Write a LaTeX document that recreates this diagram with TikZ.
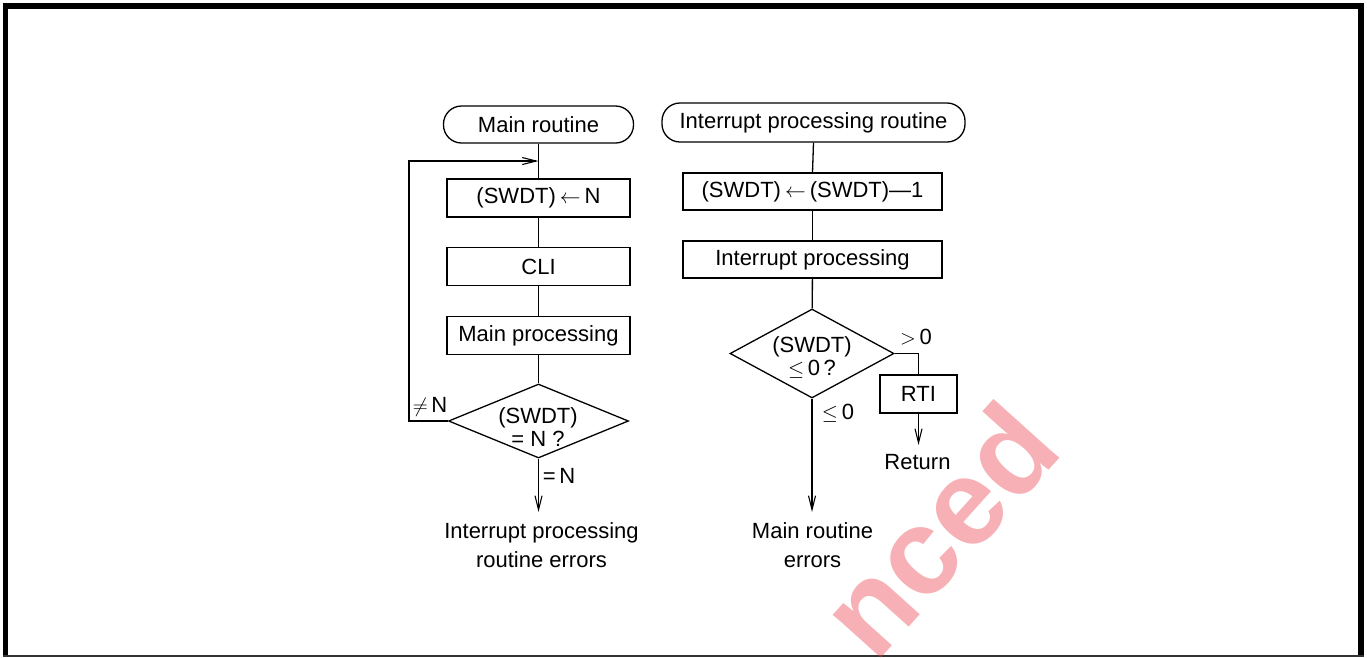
\documentclass[tikz,border=0pt]{standalone}
\usepackage{fontspec}
\setmainfont{Liberation Sans}
\usetikzlibrary{shapes.geometric,arrows.meta}
\newcommand\dfont{\fontsize{22}{23}\selectfont}
\newcommand\lfont{\fontsize{22}{29.5}\selectfont}
\definecolor{wmred}{RGB}{236,70,80}
\begin{document}
\begin{tikzpicture}[x=1pt,y=-1pt,line width=1.3pt,
  every node/.style={inner sep=0pt,font=\dfont},
  term/.style={draw,rectangle,rounded corners=18pt},
  proc/.style={draw,rectangle},
  dec/.style={draw,diamond},
  flow/.style={-{Straight Barb[length=14pt,width=7pt,line width=1.1pt]}}]
\useasboundingbox (0,0) rectangle (1367,657);
% frame
\fill[black] (3,3) rectangle (1364,9);
\fill[black] (3,3) rectangle (8,657);
\fill[black] (1358,3) rectangle (1364,657);
\draw[line width=1.5pt,black!80] (3,656) -- (1364,656);
% watermark
\node[rotate=48,anchor=base east,text=wmred,opacity=0.42,font=\fontsize{122}{122}\selectfont\bfseries] (wm) at (1066,452) {nced};
% left column
\node[term,minimum width=190pt,minimum height=37pt] (t1) at (538.5,124.5) {Main routine};
\node[proc,minimum width=183pt,minimum height=38pt] (b1) at (538.5,198) {(SWDT)\kern4pt$\leftarrow$\kern4pt N};
\node[proc,minimum width=183pt,minimum height=38pt] (b2) at (538.5,266.5) {CLI};
\node[proc,minimum width=183pt,minimum height=38pt] (b3) at (538.5,335.5) {Main processing};
\node[dec,minimum width=180pt,minimum height=74pt] (d1) at (538.5,421) {};
\node[align=center] (d1t) at (538,427) {(SWDT)\\= N ?};
\coordinate (loopin) at (538.5,161);
\coordinate (loopc) at (409,161);
\coordinate (e1) at (538.5,512);
\node[align=center,font=\lfont] (err1) at (541.5,545) {Interrupt processing\\routine errors};
\node (neq) at (430,407) {$\neq$\,N};
\node (eqn) at (559,476) {=\,N};
\draw (t1) -- (b1);
\draw (b1) -- (b2);
\draw (b2) -- (b3);
\draw (b3) -- (d1);
\draw[flow] (d1.west) -| (loopc) -- (loopin);
\draw[flow] (d1.south) -- (e1);
% right column
\node[term,minimum width=303pt,minimum height=39pt] (t2) at (813.5,122.5) {Interrupt processing routine};
\node[proc,minimum width=259pt,minimum height=37pt] (b4) at (812.5,191.5) {(SWDT)\kern4pt$\leftarrow$\kern4pt(SWDT)—1};
\node[proc,minimum width=259pt,minimum height=37pt] (b5) at (812.5,259.5) {Interrupt processing};
\node[dec,minimum width=164pt,minimum height=89pt] (d2) at (812,353.5) {};
\node[align=center] (d2t) at (812,357) {(SWDT)\\$\leq$\,0\,?};
\node[proc,minimum width=77pt,minimum height=38pt] (rti) at (918.5,394) {RTI};
\node (ret) at (917.5,462) {Return};
\node (gt) at (916,337.5) {$>$\,0};
\node (le) at (838,413) {$\leq$\,0};
\coordinate (e2) at (812,512);
\coordinate (e3) at (918.5,445);
\node[align=center,font=\lfont] (err2) at (812.5,545) {Main routine\\errors};
\draw (t2.south) -- (b4.north);
\draw (b4) -- (b5);
\draw (b5) -- (d2);
\draw (d2.east) -| (rti.north);
\draw[flow] (rti.south) -- (e3);
\draw[flow] (d2.south) -- (e2);
\end{tikzpicture}
\end{document}
